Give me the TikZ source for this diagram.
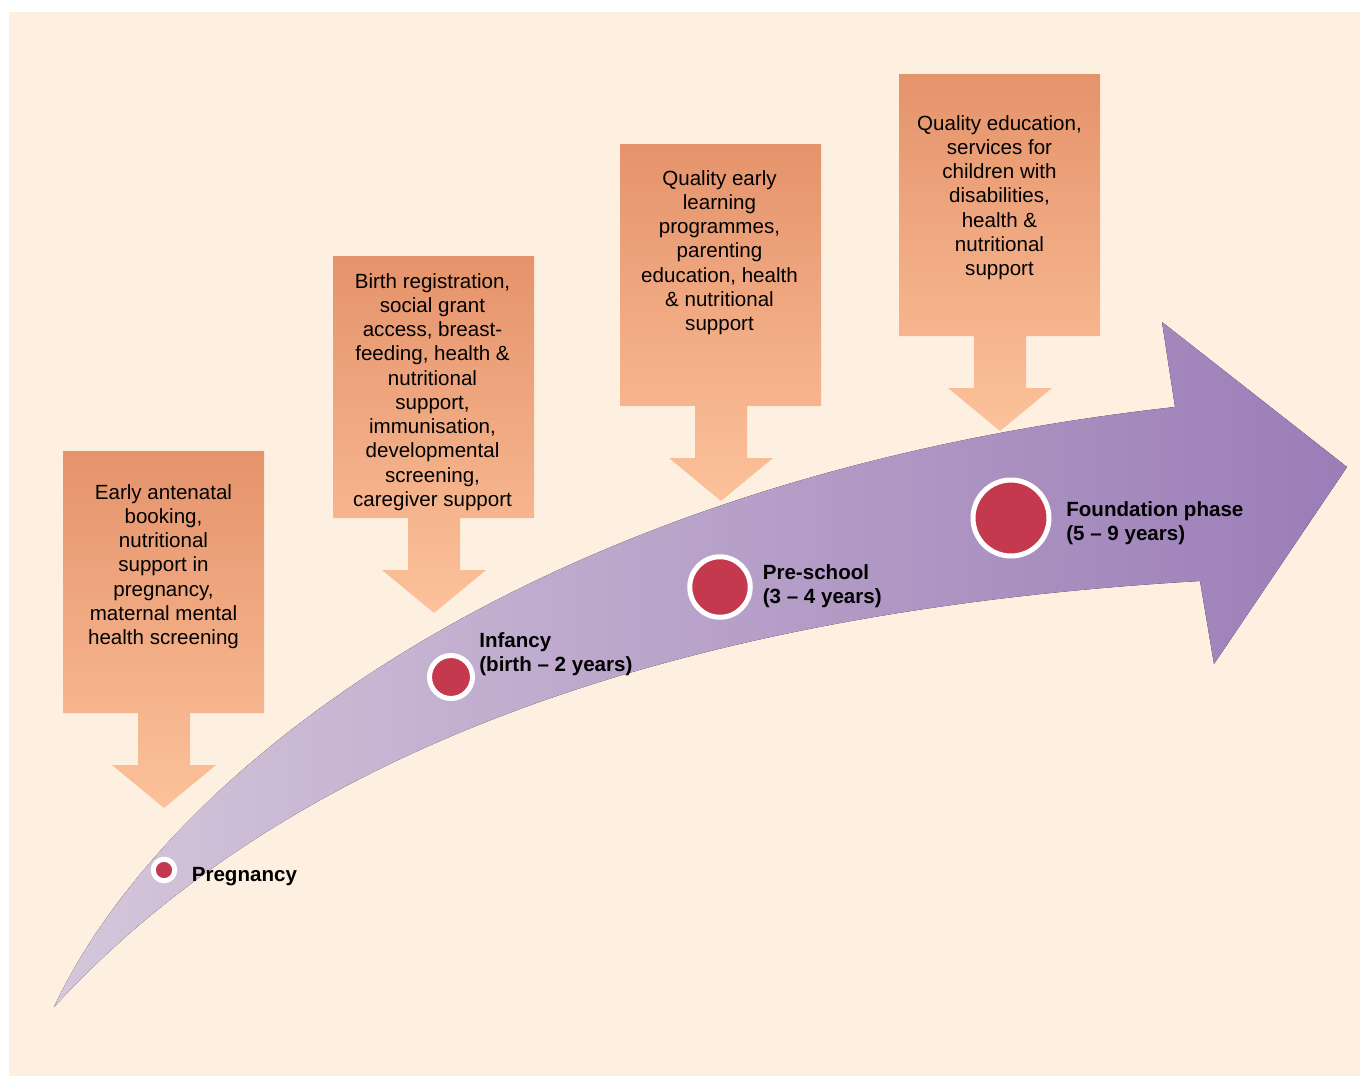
\documentclass[tikz,border=0pt]{standalone}
\usepackage{fontspec}
\setmainfont{Liberation Sans}
\definecolor{paper}{HTML}{FEF0E1}
\definecolor{boxtop}{HTML}{E5936B}
\definecolor{boxtip}{HTML}{FCC29B}
\definecolor{pathleft}{HTML}{D5C7DB}
\definecolor{pathright}{HTML}{9B7DB7}
\definecolor{dot}{HTML}{C5394F}
\begin{document}
\begin{tikzpicture}[x=0.02cm, y=-0.02cm,
				callout/.style = {top color=boxtop, bottom color=boxtip},
				need/.style = {align=center, inner sep=0pt,
					font=\fontsize{11.7}{13.8}\selectfont},
				dotmark/.style = {circle, fill=dot, draw=white,
					line width=0.1cm, inner sep=0pt},
				stage/.style = {anchor=north west, align=left, inner sep=0pt,
					font=\fontsize{11.7}{13.7}\selectfont\bfseries}]
				\useasboundingbox (0,0) rectangle (1360,1076);
				\fill[paper] (9,12) rectangle (1360,1076);
				% the growth arrow
				\fill[left color=pathleft, right color=pathright]
					(54,1007) .. controls (160,780) and (520,480) .. (1175,407)
					-- (1162,322) -- (1347,467) -- (1214,664) -- (1200,581)
					.. controls (700,610) and (300,740) .. (54,1007)
					-- cycle;
				% boxes with their arrows
				\foreach \bx/\by in {63/451, 333/256, 620/144, 899/74}
					\path[callout] (\bx,\by) -- ++(201,0) -- ++(0,262) -- ++(-74,0) -- ++(0,52)
						-- ++(26,0) -- ++(-52,43) -- ++(-52,-43) -- ++(26,0) -- ++(0,-52) -- ++(-75,0) -- cycle;
				\node[need] (antenatal) at (163.5,566.5) {Early antenatal\\booking,\\nutritional\\support in\\pregnancy,\\maternal mental\\health screening};
				\node[need] (birth) at (432.5,392) {Birth registration,\\social grant\\access, breast-\\feeding, health \&\\nutritional\\support,\\immunisation,\\developmental\\screening,\\caregiver support};
				\node[need] (learning) at (719.5,252.5) {Quality early\\learning\\programmes,\\parenting\\education, health\\\& nutritional\\support};
				\node[need] (schooling) at (999.5,197.5) {Quality education,\\services for\\children with\\disabilities,\\health \&\\nutritional\\support};
				% stages along the arrow
				\node[dotmark, minimum size=0.43cm] (pregnancy) at (164,870) {};
				\node[dotmark, minimum size=0.86cm] (infancy) at (451,677) {};
				\node[dotmark, minimum size=1.21cm] (preschool) at (720,587) {};
				\node[dotmark, minimum size=1.52cm] (foundation) at (1011,518) {};
				\node[stage, anchor=base west] (pregnancytext) at (191.5,881) {Pregnancy};
				\node[stage] (infancytext) at (479,632) {Infancy\\(birth -- 2 years)};
				\node[stage] (preschooltext) at (762.5,564.5) {Pre-school\\(3 -- 4 years)};
				\node[stage] (foundationtext) at (1066,501) {Foundation phase\\(5 -- 9 years)};
			\end{tikzpicture}
\end{document}
